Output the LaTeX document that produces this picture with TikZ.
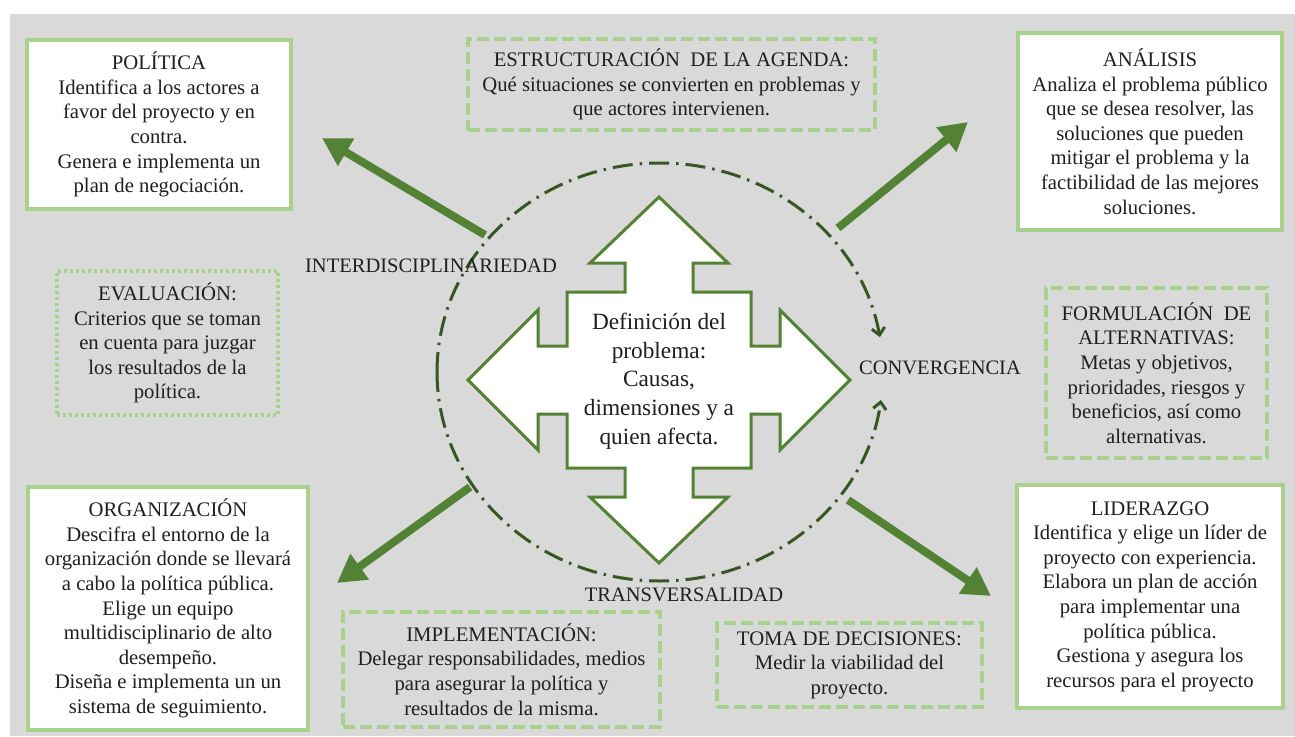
\documentclass[tikz,border=0pt]{standalone}
\usepackage{fontspec}
\setmainfont{Liberation Serif}
\usetikzlibrary{arrows.meta}
\definecolor{bggray}{HTML}{D9D9D9}
\definecolor{boxgreen}{HTML}{A9D18E}
\definecolor{arrgreen}{HTML}{548235}
\definecolor{darkgreen}{HTML}{375623}
\definecolor{txt}{HTML}{1F1F1F}
\begin{document}
\begin{tikzpicture}[x=1pt,y=-1pt,
  every node/.style={text=txt, font=\fontsize{20.7}{24.6}\selectfont, align=center, inner sep=0pt},
  solidbox/.style={draw=boxgreen, line width=4pt, fill=white},
  dashbox/.style={draw=boxgreen, line width=4pt, dash pattern=on 12pt off 5pt},
  dotbox/.style={draw=boxgreen, line width=3.5pt, dash pattern=on 3pt off 3pt},
  bigarrow/.style={draw=arrgreen, line width=8pt, -{Triangle[length=28pt,width=30pt]}},
  cyclearc/.style={draw=darkgreen, line width=3pt, dash pattern=on 20pt off 7pt on 2.5pt off 7pt},
  lbl/.style={font=\fontsize{20.5}{24}\selectfont},
  quadshape/.style={draw=arrgreen, line width=3pt, fill=white, line join=miter}
]
\useasboundingbox (0,0) rectangle (1295,736);
\fill[white] (0,0) rectangle (1295,736);
\fill[bggray] (10,14) rectangle (1295,736);

% boxes
\node[solidbox, minimum width=264pt, minimum height=169pt] (pol) at (159,124.5)
 {POLÍTICA\\Identifica a los actores a\\favor del proyecto y en\\contra.\\Genera e implementa un\\plan de negociación.};
\node[dashbox, minimum width=407pt, minimum height=91pt] (agenda) at (671.5,84.5)
 {ESTRUCTURACIÓN\ \ DE LA AGENDA:\\Qué situaciones se convierten en problemas y\\que actores intervienen.};
\node[solidbox, minimum width=264pt, minimum height=197pt] (anal) at (1150,131.5)
 {ANÁLISIS\\Analiza el problema público\\que se desea resolver, las\\soluciones que pueden\\mitigar el problema y la\\factibilidad de las mejores\\soluciones.};
\node[dotbox, minimum width=221pt, minimum height=144pt] (eval) at (167.5,343)
 {EVALUACIÓN:\\Criterios que se toman\\en cuenta para juzgar\\los resultados de la\\política.};
\node[dashbox, minimum width=221pt, minimum height=170pt] (form) at (1156.5,373)
 {FORMULACIÓN\ \ DE\\ALTERNATIVAS:\\Metas y objetivos,\\prioridades, riesgos y\\beneficios, así como\\alternativas.};
\node[solidbox, minimum width=280pt, minimum height=243pt] (org) at (168,608.5)
 {ORGANIZACIÓN\\Descifra el entorno de la\\organización donde se llevará\\a cabo la política pública.\\Elige un equipo\\multidisciplinario de alto\\desempeño.\\Diseña e implementa un un\\sistema de seguimiento.};
\node[dashbox, minimum width=317pt, minimum height=115pt] (impl) at (501.5,669.5)
 {IMPLEMENTACIÓN:\\Delegar responsabilidades, medios\\para asegurar la política y\\resultados de la misma.};
\node[dashbox, minimum width=265pt, minimum height=84pt] (toma) at (849.5,665)
 {TOMA DE DECISIONES:\\Medir la viabilidad del\\proyecto.};
\node[solidbox, minimum width=266pt, minimum height=223pt] (lid) at (1150,596.5)
 {LIDERAZGO\\Identifica y elige un líder de\\proyecto con experiencia.\\Elabora un plan de acción\\para implementar una\\política pública.\\Gestiona y asegura los\\recursos para el proyecto};

% cycle arcs
\coordinate (cc) at (660,372);
\draw[cyclearc, -{Straight Barb[length=7pt,width=13pt]}] ([shift={(-180:223 and 209)}]cc)
  arc[start angle=-180, end angle=-9.6, x radius=223, y radius=209];
\draw[cyclearc, -{Straight Barb[length=7pt,width=13pt]}] ([shift={(180:223 and 209)}]cc)
  arc[start angle=180, end angle=7.7, x radius=223, y radius=209];

% big arrows
\coordinate (a1s) at (485,235); \coordinate (a1e) at (322,138);
\coordinate (a2s) at (838,228); \coordinate (a2e) at (968,122);
\coordinate (a3s) at (470,487); \coordinate (a3e) at (337,583);
\coordinate (a4s) at (848,500); \coordinate (a4e) at (991,596);
\draw[bigarrow] (a1s) -- (a1e);
\draw[bigarrow] (a2s) -- (a2e);
\draw[bigarrow] (a3s) -- (a3e);
\draw[bigarrow] (a4s) -- (a4e);

% central quad arrow
\begin{scope}[shift={(659,380)}]
\draw[quadshape] (0,-183) -- (69,-117) -- (34,-117) -- (34,-88) -- (92,-88) -- (92,-34)
 -- (121,-34) -- (121,-70) -- (191,0) -- (121,70) -- (121,34) -- (92,34) -- (92,88)
 -- (34,88) -- (34,117) -- (69,117) -- (0,183) -- (-69,117) -- (-34,117) -- (-34,88)
 -- (-92,88) -- (-92,34) -- (-121,34) -- (-121,70) -- (-191,0) -- (-121,-70) -- (-121,-34)
 -- (-92,-34) -- (-92,-88) -- (-34,-88) -- (-34,-117) -- (-69,-117) -- cycle;
\end{scope}
\node[font=\fontsize{23.3}{28.7}\selectfont] (def) at (659,381)
 {Definición del\\problema:\\Causas,\\dimensiones y a\\quien afecta.};

% labels
\node[lbl] (inter) at (431,266) {INTERDISCIPLINARIEDAD};
\node[lbl] (conv) at (940,368) {CONVERGENCIA};
\node[lbl] (trans) at (684,595) {TRANSVERSALIDAD};
\end{tikzpicture}
\end{document}
